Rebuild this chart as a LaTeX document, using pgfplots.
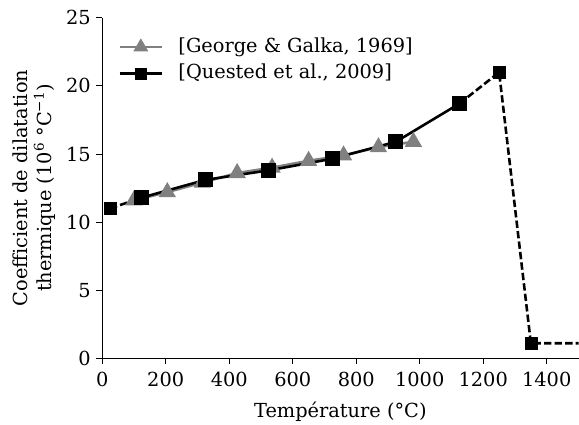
\documentclass[border=0pt]{standalone}
\usepackage{fontspec}
\setmainfont{DejaVu Serif}
\usepackage{pgfplots}
\pgfplotsset{compat=1.18}
\definecolor{mgray}{RGB}{128,128,128}
\newcommand{\ff}{\fontsize{19.5}{24}\selectfont}
\begin{document}
\begin{tikzpicture}[font=\ff]
\begin{axis}[
  at={(0pt,0pt)}, anchor=south west,
  width=480pt, height=343pt, scale only axis,
  xmin=0, xmax=1500, ymin=0, ymax=25,
  axis x line*=bottom, axis y line*=left,
  axis line style={-, line width=1pt},
  xtick={0,200,...,1400}, ytick={0,5,...,25},
  tick align=outside, major tick length=6pt,
  tick style={black, line width=1pt},
  /pgf/number format/assume math mode=true,
  /pgf/number format/1000 sep={},
  tick label style={font=\ff},
  xticklabel style={yshift=-4pt},
  yticklabel style={xshift=-2pt},
  label style={font=\ff},
  xlabel={Température (°C)},
  xlabel style={yshift=-9pt},
  ylabel={Coefficient de dilatation\\thermique (10\textsuperscript{6} °C\textsuperscript{−1})},
  ylabel style={align=center, yshift=4pt},
  legend style={draw=none, fill=none, at={(0.033,0.941)}, anchor=north west,
    inner sep=0pt, row sep=9pt, column sep=15pt, font=\ff,
    nodes={inner sep=0pt, text height=14pt, text depth=4pt}},
  legend cell align=left,
  legend image code/.code={\draw[line width=2.8pt, mark repeat=2,mark phase=2] plot coordinates {(0pt,0pt) (21.5pt,0pt) (43pt,0pt)};},
]
\addplot[mgray, line width=2.6pt, mark=triangle*, mark size=7.5pt, mark options={solid},
  legend image post style={mark size=6pt}]
  coordinates {(100,11.6) (205,12.2) (315,12.9) (425,13.6) (535,14.0) (650,14.5) (760,14.9) (870,15.5) (980,15.9)};
\addlegendentry{[George \& Galka, 1969]}
\addplot[black, line width=2.6pt, dash pattern=on 7.4pt off 3.2pt, forget plot]
  coordinates {(25,11.0) (125,11.8)};
\addplot[black, line width=2.6pt, dash pattern=on 7.4pt off 3.2pt, forget plot]
  coordinates {(1125,18.7) (1250,21.0) (1350,1.1) (1500,1.1)};
\addplot[black, line width=2.6pt, mark=square*, mark size=6.2pt, mark options={solid},
  legend image post style={mark size=4.8pt}]
  coordinates {(125,11.8) (325,13.1) (525,13.8) (725,14.65) (925,15.9) (1125,18.7)};
\addlegendentry{[Quested et al., 2009]}
\addplot[black, only marks, mark=square*, mark size=6.2pt, forget plot]
  coordinates {(25,11.0) (1250,21.0) (1350,1.1)};
\end{axis}
\path[use as bounding box] (-103pt,-59pt) rectangle (476pt,361pt);
\end{tikzpicture}
\end{document}
